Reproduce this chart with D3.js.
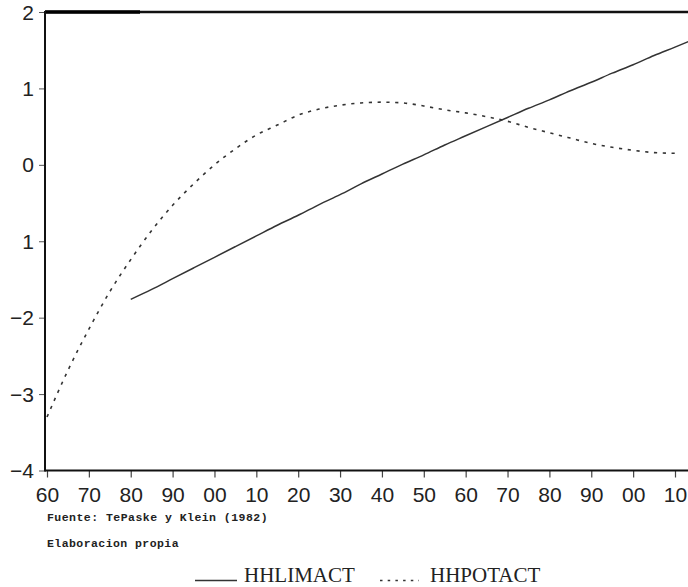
<!DOCTYPE html>
<html>
<head>
<meta charset="utf-8">
<script src="https://cdn.jsdelivr.net/npm/d3@7"></script>
<style>
  html, body { margin: 0; padding: 0; background: #fff; }
  svg { display: block; }
</style>
</head>
<body>
<svg id="chart" width="688" height="587"></svg>
<script>
// ---- Data ----
const limYears = [1980, 1985, 1990, 1995, 2000, 2005, 2010, 2015, 2020, 2025, 2030, 2035, 2040, 2045, 2050, 2055, 2060, 2065, 2070, 2075, 2080, 2085, 2090, 2095, 2100, 2105, 2110, 2114];
const limValues = [-1.76, -1.63, -1.49, -1.35, -1.21, -1.07, -0.93, -0.79, -0.66, -0.52, -0.39, -0.25, -0.12, 0.01, 0.13, 0.26, 0.38, 0.50, 0.62, 0.74, 0.85, 0.97, 1.08, 1.20, 1.31, 1.43, 1.54, 1.63];

const potYears = [1960, 1965, 1970, 1975, 1980, 1985, 1990, 1995, 2000, 2005, 2010, 2015, 2020, 2025, 2030, 2035, 2040, 2045, 2050, 2055, 2060, 2065, 2070, 2075, 2080, 2085, 2090, 2095, 2100, 2105, 2111];
const potValues = [-3.30, -2.69, -2.15, -1.66, -1.24, -0.86, -0.53, -0.25, 0.00, 0.21, 0.39, 0.52, 0.65, 0.73, 0.78, 0.81, 0.82, 0.81, 0.77, 0.72, 0.68, 0.63, 0.57, 0.49, 0.42, 0.35, 0.28, 0.23, 0.19, 0.16, 0.15];

const xTickYears = [1960, 1970, 1980, 1990, 2000, 2010, 2020, 2030, 2040, 2050, 2060, 2070, 2080, 2090, 2100, 2110];
const xTickLabels = ["60", "70", "80", "90", "00", "10", "20", "30", "40", "50", "60", "70", "80", "90", "00", "10"];
const yTickValues = [2, 1, 0, -1, -2, -3, -4];
const yTickLabels = ["2", "1", "0", "1", "\u22122", "\u22123", "\u22124"];

const seriesNames = ["HHLIMACT", "HHPOTACT"];
const sourceLines = ["Fuente: TePaske y Klein (1982)", "Elaboracion propia"];

// ---- Drawing ----
const svg = d3.select("#chart");
const x = d3.scaleLinear().domain([1960, 2110]).range([47, 675]);
const y = d3.scaleLinear().domain([-4, 2]).range([470.5, 12]);

const axisX0 = 45, plotRight = 700;

// clip for plot
svg.append("defs").append("clipPath").attr("id", "clip")
  .append("rect").attr("x", axisX0).attr("y", 0).attr("width", plotRight - axisX0).attr("height", 472);

// Y axis
const yAxis = d3.axisLeft(y)
  .tickValues(yTickValues)
  .tickFormat((d, i) => yTickLabels[i])
  .tickSize(6).tickPadding(5);
const gy = svg.append("g").attr("transform", `translate(${axisX0},0)`).call(yAxis);
gy.select(".domain").remove();
gy.selectAll(".tick line").attr("stroke", "#555").attr("stroke-width", 1);
gy.selectAll(".tick text")
  .attr("font-family", "'Liberation Sans', Arial, sans-serif")
  .attr("font-size", 21).attr("fill", "#222").attr("dy", "0.34em");

// X axis
const xAxis = d3.axisBottom(x)
  .tickValues(xTickYears)
  .tickFormat((d, i) => xTickLabels[i])
  .tickSize(7).tickPadding(10);
const gx = svg.append("g").attr("transform", `translate(0,${y(-4)})`).call(xAxis);
gx.select(".domain").remove();
gx.selectAll(".tick line").attr("stroke", "#444").attr("stroke-width", 1.2);
gx.selectAll(".tick text")
  .attr("font-family", "'Liberation Sans', Arial, sans-serif")
  .attr("font-size", 21).attr("fill", "#222");

// Frame lines
svg.append("line").attr("x1", axisX0).attr("x2", plotRight).attr("y1", y(2)).attr("y2", y(2))
  .attr("stroke", "#111").attr("stroke-width", 2.5);
svg.append("line").attr("x1", axisX0).attr("x2", 140).attr("y1", y(2)).attr("y2", y(2))
  .attr("stroke", "#000").attr("stroke-width", 3.5);
svg.append("line").attr("x1", axisX0).attr("x2", plotRight).attr("y1", y(-4)).attr("y2", y(-4))
  .attr("stroke", "#111").attr("stroke-width", 2);
svg.append("line").attr("x1", axisX0).attr("x2", axisX0).attr("y1", y(2) - 1).attr("y2", y(-4) + 1)
  .attr("stroke", "#111").attr("stroke-width", 2);

// Series
const line = d3.line().x(d => x(d[0])).y(d => y(d[1])).curve(d3.curveMonotoneX);
const plot = svg.append("g").attr("clip-path", "url(#clip)");

plot.append("path")
  .datum(potYears.map((yr, i) => [yr, potValues[i]]))
  .attr("d", line).attr("fill", "none")
  .attr("stroke", "#333").attr("stroke-width", 1.6)
  .attr("stroke-dasharray", "3.2,5.6");

plot.append("path")
  .datum(limYears.map((yr, i) => [yr, limValues[i]]))
  .attr("d", line).attr("fill", "none")
  .attr("stroke", "#333").attr("stroke-width", 1.5);

// Source notes
svg.selectAll("text.src").data(sourceLines).enter().append("text")
  .attr("class", "src")
  .attr("x", 47).attr("y", (d, i) => 521 + i * 26)
  .attr("font-family", "'Liberation Mono', 'DejaVu Sans Mono', monospace")
  .attr("font-size", 11.5).attr("font-weight", "bold").attr("fill", "#222")
  .attr("textLength", d => d.length * 7.42 - 2)
  .attr("lengthAdjust", "spacing")
  .text(d => d);

// Legend
const lg = svg.append("g");
lg.append("line").attr("x1", 195).attr("x2", 237).attr("y1", 580.5).attr("y2", 580.5)
  .attr("stroke", "#333").attr("stroke-width", 1.3);
lg.append("text").attr("x", 244).attr("y", 582)
  .attr("font-family", "'Liberation Serif', 'Times New Roman', serif")
  .attr("font-size", 21).attr("fill", "#222").text(seriesNames[0]);
lg.append("line").attr("x1", 380).attr("x2", 419).attr("y1", 580.5).attr("y2", 580.5)
  .attr("stroke", "#333").attr("stroke-width", 1.6).attr("stroke-dasharray", "2.5,5.2");
lg.append("text").attr("x", 430).attr("y", 582)
  .attr("font-family", "'Liberation Serif', 'Times New Roman', serif")
  .attr("font-size", 21).attr("fill", "#222").text(seriesNames[1]);
</script>
</body>
</html>
